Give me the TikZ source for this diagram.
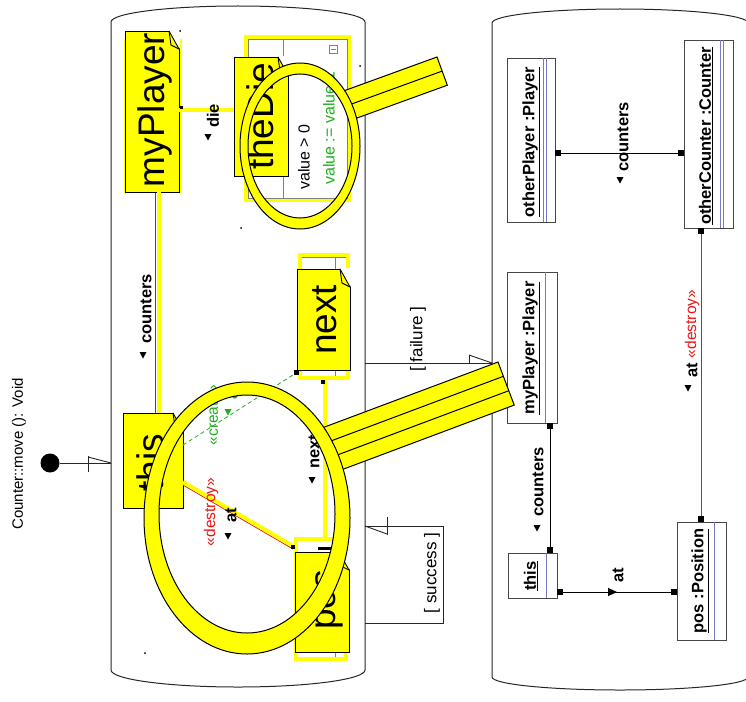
\documentclass[tikz,border=0pt]{standalone}
\usepackage{fontspec}
\setmainfont{Liberation Sans}
\usetikzlibrary{calc,arrows.meta,decorations.markings}
\definecolor{fyel}{RGB}{255,255,0}
\definecolor{fgreen}{RGB}{30,175,30}
\definecolor{fred}{RGB}{235,20,20}
\definecolor{fblue}{RGB}{120,120,200}
\definecolor{fgray}{RGB}{70,70,70}
\tikzset{
 every node/.style={inner sep=0pt, outer sep=0pt},
 panel/.style={draw=black!85, line width=1pt},
 obj/.style 2 args={draw=fgray, fill=white, line width=0.9pt, minimum width=#1, minimum height=#2},
 note/.style 2 args={draw=black, fill=fyel, line width=0.9pt, minimum width=#1, minimum height=#2},
 frame/.style 2 args={draw=fyel, fill=white, line width=4pt, minimum width=#1, minimum height=#2},
 sq/.style={fill=black, minimum size=6pt},
 sqs/.style={fill=black, minimum size=3.5pt},
 bigtxt/.style={rotate=90, font=\fontsize{37}{40}\selectfont},
 lbl/.style={rotate=90, font=\fontsize{16.5}{18}\selectfont\bfseries},
 lblr/.style={rotate=90, font=\fontsize{15.5}{17}\selectfont},
 objtxt/.style={rotate=90, font=\fontsize{16.5}{18}\selectfont\bfseries},
 trtxt/.style={rotate=90, font=\fontsize{17}{19}\selectfont},
 valtxt/.style={rotate=90, font=\fontsize{16}{18}\selectfont},
 yline/.style={draw=fyel, line width=4pt},
 sepline/.style={draw=fblue, line width=0.7pt},
 ring/.style={fill=fyel, even odd rule},
 ringline/.style={draw=black, line width=1pt},
 handle/.style={fill=fyel, draw=black, line width=1pt, line join=miter},
 trline/.style={draw=black!85, line width=0.9pt},
 dtri/.pic={\fill (-3.5,-3) -- (3.5,-3) -- (0,3.5) -- cycle;}
}
\newcommand\notefold[1]{%
 \fill[white] ($(#1.north east)+(-10,-1)$) -- ($(#1.north east)+(1,-1)$) -- ($(#1.north east)+(1,18)$) -- cycle;
 \draw[line width=0.9pt] ($(#1.north east)+(-10,0)$) -- ($(#1.north east)+(0,18)$);
 \draw[line width=0.9pt] ($(#1.north east)+(-10,0)$) -- ($(#1.north east)+(-8,14)$) -- ($(#1.north east)+(0,18)$);}
\begin{document}
\begin{tikzpicture}[x=1pt,y=-1pt]
\useasboundingbox (0,0) rectangle (746,701);

% ---------- panels
\draw[panel] (111,670) -- (111,22) .. controls (111,13.2) and (167.9,6) .. (238,6) .. controls (308.1,6) and (365,13.2) .. (365,22) -- (365,670) .. controls (365,679.4) and (308.1,687) .. (238,687) .. controls (167.9,687) and (111,679.4) .. (111,670) -- cycle;
\draw[panel] (492,677) -- (492,23) .. controls (492,15.3) and (549.3,9) .. (620,9) .. controls (690.7,9) and (748,15.3) .. (748,23) -- (748,677) .. controls (748,684.2) and (690.7,690) .. (620,690) .. controls (549.3,690) and (492,684.2) .. (492,677) -- cycle;

% ---------- title and start
\node[rotate=90, font=\fontsize{15}{17}\selectfont] (title) at (19,454) {Counter::move (): Void};
\node[circle, fill=black, minimum size=19pt] (init) at (50,463) {};
\coordinate (initE) at (111,463);
\draw[trline] (init) -- (initE);
\draw[trline] ($(initE)+(-23,-7)$) -- ($(initE)+(-23,9)$);
\draw[trline] ($(initE)+(-23,-6)$) -- (initE);

% ---------- underlying frames (left panel)
\node[frame={103pt}{163pt}] (dieF) at (297.5,118.5) {};
\draw[gray, line width=0.5pt] ($(dieF.north west)+(2,2)$) rectangle ($(dieF.south east)+(-2,-2)$);
\draw[sepline] ($(dieF.north west)+(37,2)$) -- ($(dieF.south west)+(37,-2)$);
\node[draw=gray, line width=0.7pt, minimum size=8pt] (dieIcon) at (333,49) {};
\draw[gray, line width=0.7pt] ($(dieIcon.center)+(-2.5,0)$) -- ($(dieIcon.center)+(2.5,0)$);
\node[valtxt] (v1) at (304,157) {value > 0};
\node[valtxt, text=fgreen] (v2) at (329,128) {value := value-1};

\node[frame={48pt}{123pt}] (nextF) at (324,316.5) {};
\draw[gray, line width=0.6pt] ($(nextF.north west)+(2,2)$) -- ($(nextF.north east)+(-2,2)$);
\draw[sepline] ($(nextF.north west)+(35,2)$) -- ($(nextF.south west)+(35,-2)$);

\node[frame={50pt}{120pt}] (posF) at (321,599) {};
\draw[sepline] ($(posF.north west)+(39,2)$) -- ($(posF.south west)+(39,-2)$);

\fill[fyel] (124,39) rectangle (182,193);

% ---------- links (left panel)
\draw[gray!60!black, line width=0.6pt] (155,192) -- (155,413);
\node[note={54pt}{161pt}] (myP) at (152,111.5) {};
\node[note={54pt}{119pt}] (dieN) at (261,116.5) {};
\node[note={60pt}{95pt}] (thisN) at (153,460.5) {};
\node[note={53pt}{101pt}] (nextN) at (323.5,319.5) {};
\node[note={54pt}{100pt}] (posN) at (322,602) {};

\draw[yline] ($(myP.south)+(7,0)$) -- ($(thisN.north)+(6,0)$);
\draw[yline] ($(myP.east)+(0,-1.5)$) -- ($(dieN.west)+(0,-6.5)$);
\node[sqs] (sq1) at (181.5,107.5) {};
\draw[fgreen, line width=0.8pt, dash pattern=on 4pt off 3pt] ($(thisN.north east)+(0,32)$) -- ($(nextN.south west)+(-1,3)$);
\node[fill=black, minimum size=5pt] (sq2) at (296,372) {};
\draw[fred, line width=0.8pt] ($(thisN.north east)+(0,72)$) -- ($(posN.north west)+(-2,-3)$);
\draw[yline] ($(thisN.north east)+(0,69)$) -- ($(posN.north west)+(-2,-6)$);
\node[sqs] (sq3) at (293,547) {};
\draw[yline] ($(nextN.south)+(1.5,10)$) -- ($(posN.north)+(3,-14)$);
\node[sqs] (sq4) at (323,382) {};
\fill (318,547) rectangle (331,549.5);

% ---------- yellow notes with folded corners
\notefold{myP}
\notefold{dieN}
\notefold{thisN}
\notefold{nextN}
\notefold{posN}
\node[bigtxt] (myPt) at (155,110) {myPlayer};
\node[bigtxt] (dieT) at (260,116.5) {theDie};
\node[bigtxt] (thisT) at (150,463) {this};
\node[bigtxt] (nextT) at (325,320) {next};
\node[bigtxt] (posT) at (329,600) {pos};

% ---------- labels (left panel)
\node[lbl] (lc1) at (146,309) {counters};
\pic at (143,355) {dtri};
\node[lbl] (ld) at (213,116) {die};
\pic at (208,137) {dtri};
\node[lbl] (ln) at (314,452) {next};
\pic at (312,480) {dtri};
\node[lbl] (la) at (231,515) {at};
\pic at (228,536) {dtri};
\node[lblr, text=fred] (lds) at (211,512) {«destroy»};
\node[lblr, text=fgreen] (lcr) at (213,415) {«create»};
\node[lbl, text=fgreen] (lga) at (232,392) {at};
\pic[fgreen] at (228,412) {dtri};

% ---------- transitions
\coordinate (fS) at (365,363);
\coordinate (fE) at (492,363);
\draw[trline] (fS) -- (fE);
\draw[trline] ($(fE)+(-23,-8)$) -- ($(fE)+(-23,1)$);
\draw[trline] ($(fE)+(-23,-8)$) -- (fE);
\node[trtxt] (failL) at (418,339) {[ failure ]};

\coordinate (sS) at (365,623);
\coordinate (sE) at (365,526);
\draw[trline] (sS) -- ($(sS)+(78,0)$) -- ($(sE)+(78,0)$) -- (sE);
\draw[trline] ($(sE)+(22,-9)$) -- ($(sE)+(22,9)$);
\draw[trline] (sE) -- ($(sE)+(22,8)$);
\node[trtxt] (succL) at (432,573) {[ success ]};

% ---------- right panel objects
\node[obj={48pt}{164pt}] (oP) at (531,140) {};
\draw[sepline] ($(oP.north west)+(36,0)$) -- ($(oP.south west)+(36,0)$);
\draw[sepline] ($(oP.north west)+(39,0)$) -- ($(oP.south west)+(39,0)$);
\node[objtxt] (oPt) at (531,142) {\underline{otherPlayer :Player}};

\node[obj={49pt}{188pt}] (oC) at (708.5,134) {};
\draw[sepline] ($(oC.north west)+(36,0)$) -- ($(oC.south west)+(36,0)$);
\draw[sepline] ($(oC.north west)+(39,0)$) -- ($(oC.south west)+(39,0)$);
\node[objtxt] (oCt) at (706,136) {\underline{otherCounter :Counter}};

\node[obj={50pt}{151pt}] (mP) at (532,347.5) {};
\draw[sepline] ($(mP.north west)+(38,0)$) -- ($(mP.south west)+(38,0)$);
\node[objtxt] (mPt) at (531,348) {\underline{myPlayer :Player}};

\node[obj={49pt}{45pt}] (tR) at (532.5,575.5) {};
\draw[sepline] ($(tR.north west)+(38,0)$) -- ($(tR.south west)+(38,0)$);
\node[objtxt] (tRt) at (531,576) {\underline{this}};

\node[obj={49pt}{118pt}] (pR) at (701.5,581) {};
\draw[sepline] ($(pR.north west)+(37,0)$) -- ($(pR.south west)+(37,0)$);
\node[objtxt] (pRt) at (700,581) {\underline{pos :Position}};

% ---------- right panel links
\draw[line width=0.9pt] ($(oP.east)+(0,13)$) -- ($(oC.west)+(0,19)$);
\node[sq, anchor=west] (s1) at ($(oP.east)+(0,13)$) {};
\node[sq, anchor=east] (s2) at ($(oC.west)+(0,19)$) {};
\node[lbl] (rc1) at (623,137) {counters};
\pic at (620,180) {dtri};

\draw[fred, line width=1pt] ($(oC.south)+(-7.5,0)$) -- ($(pR.north)+(-0.5,0)$);
\node[sq, anchor=north] (s3) at ($(oC.south)+(-7.5,0)$) {};
\node[sq, anchor=south] (s4) at ($(pR.north)+(-0.5,0)$) {};
\node[lbl] (ra1) at (692,370) {at};
\node[lblr, text=fred] (rds) at (692,324) {«destroy»};
\pic at (688,388) {dtri};

\draw[line width=0.9pt] ($(mP.south)+(18,0)$) -- ($(tR.north)+(17.5,0)$);
\node[sq, anchor=north] (s5) at ($(mP.south)+(18,0)$) {};
\node[sq, anchor=south] (s6) at ($(tR.north)+(17.5,0)$) {};
\node[lbl] (rc2) at (538,482) {counters};
\pic at (537,528) {dtri};

\draw[line width=0.9pt, decoration={markings, mark=at position 0.5 with {\arrow{Triangle[length=9pt,width=8pt]}}}, postaction={decorate}] ($(tR.east)+(0,16.5)$) -- ($(pR.west)+(0,11)$);
\node[sq, anchor=west] (s7) at ($(tR.east)+(0,16.5)$) {};
\node[sq, anchor=east] (s8) at ($(pR.west)+(0,11)$) {};
\node[lbl] (ra2) at (618,575) {at};

% ---------- small dots
\fill (241,228) circle[radius=1pt];
\fill (360,66) circle[radius=1pt];
\fill (145,653) circle[radius=1pt];
\fill (180,31) circle[radius=1pt];

% ---------- magnifiers
\draw[handle] (437,57) -- (447.3,85.2) -- (352.4,119.7) -- (342.1,91.5) -- cycle;
\draw[line width=1pt] (442.1,71.1) -- (347.2,105.6);
\path[ring] (300,146) ellipse [x radius=60pt, y radius=83pt] (300,146) ellipse [x radius=52pt, y radius=72pt];
\draw[ringline] (300,146) ellipse [x radius=60pt, y radius=83pt];
\draw[ringline] (300,146) ellipse [x radius=52pt, y radius=72pt];

\draw[handle] (498,362) -- (514.2,405.1) -- (336.3,471.8) -- (320.1,428.7) -- cycle;
\draw[line width=1pt] (503.4,376.3) -- (325.5,443);
\draw[line width=1pt] (508.8,390.7) -- (330.9,457.4);
\path[ring] (247,518) ellipse [x radius=103pt, y radius=136pt] (247,514) ellipse [x radius=88pt, y radius=119pt];
\draw[ringline] (247,518) ellipse [x radius=103pt, y radius=136pt];
\draw[ringline] (247,514) ellipse [x radius=88pt, y radius=119pt];
\end{tikzpicture}
\end{document}
